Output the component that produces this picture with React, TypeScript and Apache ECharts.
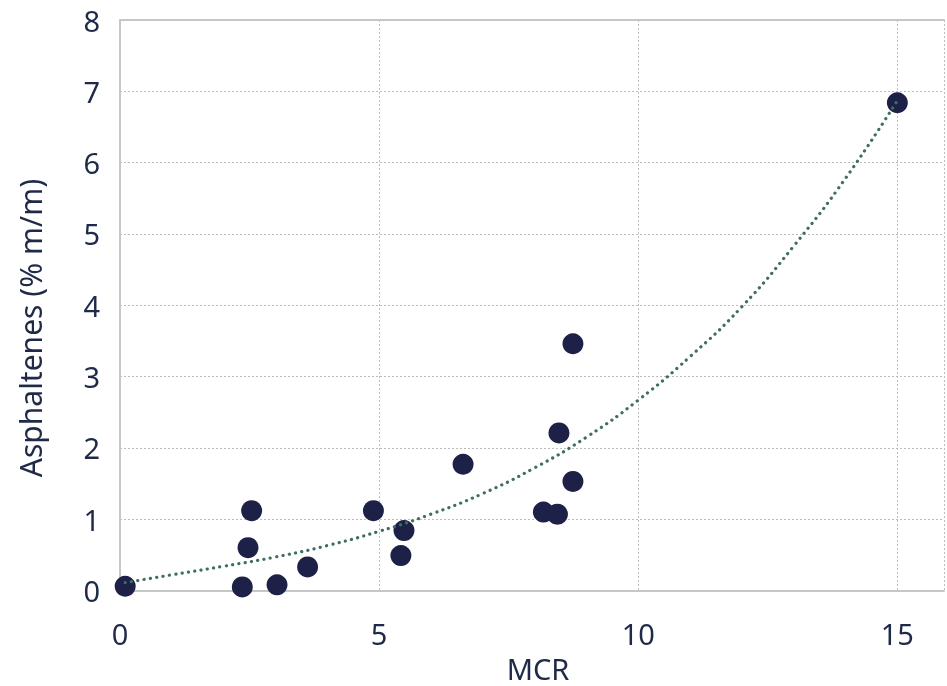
import React, { useEffect, useRef } from "react";
import * as echarts from "echarts";

const mcr = [0.1, 2.54, 2.47, 2.36, 3.03, 3.62, 4.89, 5.48, 5.42, 6.62, 8.74, 8.47, 8.74, 8.17, 8.44, 15.0];
const asphaltenes = [0.06, 1.12, 0.6, 0.05, 0.08, 0.33, 1.12, 0.84, 0.49, 1.77, 3.46, 2.21, 1.53, 1.1, 1.07, 6.84];

const trendX = [0.1, 1, 2, 3, 4, 5, 6, 7, 8, 9, 10, 11, 12, 13, 14, 15];
const trendY = [0.11, 0.22, 0.34, 0.47, 0.63, 0.83, 1.07, 1.36, 1.72, 2.15, 2.67, 3.28, 3.98, 4.83, 5.78, 6.87];

const xTicks = [0, 5, 10, 15];
const xTitle = "MCR";
const yTitle = "Asphaltenes (% m/m)";

const FONT = "'Noto Sans', 'Open Sans', sans-serif";
const TEXT = "#1f2a48";

export default function App() {
  const ref = useRef<HTMLDivElement>(null);
  useEffect(() => {
    if (!ref.current) return;
    const chart = echarts.init(ref.current, undefined, { renderer: "svg" });
    chart.setOption({
      animation: false,
      graphic: [
        {
          type: "text",
          x: 30,
          y: 328,
          rotation: Math.PI / 2,
          style: {
            text: yTitle,
            fontFamily: FONT,
            fontSize: 30,
            lineHeight: 30,
            fill: TEXT,
            align: "center",
            verticalAlign: "middle",
          },
        },
        {
          type: "text",
          x: 538,
          y: 668,
          style: {
            text: xTitle,
            fontFamily: FONT,
            fontSize: 29,
            lineHeight: 29,
            fill: TEXT,
            align: "center",
            verticalAlign: "middle",
          },
        },
      ],
      grid: { left: 120, top: 20, width: 827, height: 570.5, containLabel: false },
      xAxis: [
        {
          type: "value",
          min: 0,
          max: 15.9,
          interval: 5,
          axisLine: { show: true, lineStyle: { color: "#c6c6c6", width: 2 } },
          axisTick: { show: false },
          axisLabel: {
            margin: 28,
            fontFamily: FONT,
            fontSize: 29,
            color: TEXT,
            formatter: (v: number) => (xTicks.includes(v) ? String(v) : ""),
          },
          splitLine: { show: true, lineStyle: { color: "#bdbdbd", type: [2, 2], width: 1 } },
        },
        {
          type: "value",
          position: "top",
          min: 0,
          max: 15.9,
          axisLine: { show: true, lineStyle: { color: "#c6c6c6", width: 2 } },
          axisTick: { show: false },
          axisLabel: { show: false },
          splitLine: { show: false },
        },
      ],
      yAxis: {
        type: "value",
        min: 0,
        max: 8,
        interval: 1,
        axisLine: { show: true, lineStyle: { color: "#c6c6c6", width: 2 } },
        axisTick: { show: false },
        axisLabel: { margin: 20, fontFamily: FONT, fontSize: 29, color: TEXT },
        splitLine: { show: true, lineStyle: { color: "#bdbdbd", type: [2, 2], width: 1 } },
      },
      series: [
        {
          type: "scatter",
          data: mcr.map((x, i) => [x, asphaltenes[i]]),
          symbolSize: 21,
          itemStyle: { color: "#1e2147", opacity: 1 },
          z: 2,
        },
        {
          type: "line",
          data: trendX.map((x, i) => [x, trendY[i]]),
          smooth: true,
          showSymbol: false,
          symbol: "none",
          lineStyle: { color: "#3d6e62", width: 3.2, type: [0.1, 6.3], cap: "round" },
          z: 3,
        },
      ],
    });
    return () => chart.dispose();
  }, []);
  return (
    <div
      ref={ref}
      style={{ position: "fixed", left: 0, top: 0, width: 947, height: 686 }}
    />
  );
}
